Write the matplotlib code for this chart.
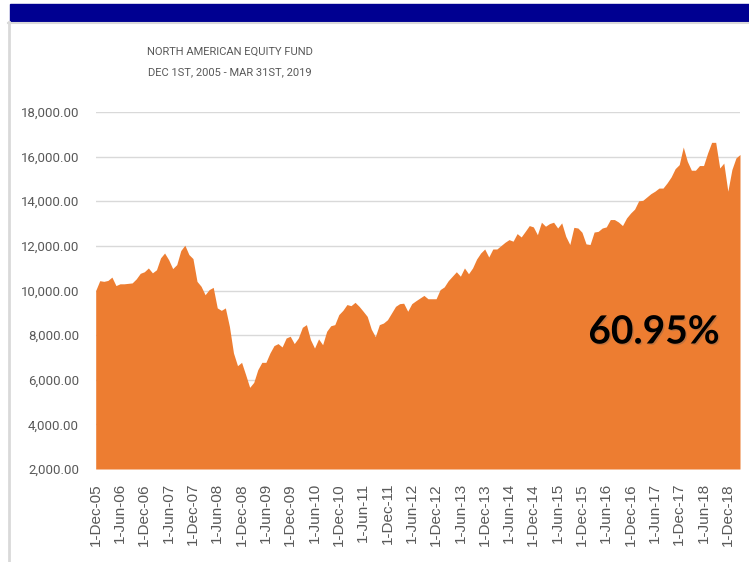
import pandas as pd
import matplotlib.pyplot as plt
import matplotlib.patheffects as pe
from matplotlib.patches import Rectangle
from matplotlib.lines import Line2D

# Monthly fund value, Dec 2005 - Mar 2019
start_date = '2005-12-01'
end_date = '2019-03-01'
fund_values = [
    10000, 10440, 10410, 10450, 10600, 10220, 10300, 10300, 10320, 10340,
    10520, 10770, 10840, 11010, 10790, 10930, 11460, 11680, 11380, 10980,
    11160, 11790, 12030, 11610, 11430, 10410, 10190, 9810, 10040, 10140,
    9220, 9110, 9220, 8390, 7200, 6630, 6780, 6230, 5660, 5880,
    6450, 6780, 6780, 7200, 7530, 7620, 7470, 7870, 7950, 7620,
    7870, 8350, 8470, 7800, 7420, 7830, 7570, 8170, 8420, 8470,
    8920, 9110, 9370, 9320, 9470, 9290, 9070, 8840, 8270, 7930,
    8470, 8540, 8690, 8990, 9290, 9410, 9430, 9070, 9410, 9540,
    9660, 9780, 9630, 9630, 9630, 10040, 10160, 10440, 10640, 10840,
    10640, 11010, 10750, 11010, 11410, 11680, 11860, 11500, 11860, 11860,
    12010, 12160, 12280, 12210, 12550, 12400, 12650, 12910, 12850, 12500,
    13060, 12880, 13000, 13060, 12800, 13030, 12430, 12060, 12830, 12800,
    12610, 12090, 12060, 12620, 12650, 12800, 12850, 13180, 13180, 13070,
    12910, 13250, 13470, 13650, 14020, 14040, 14190, 14340, 14450, 14590,
    14590, 14820, 15090, 15460, 15640, 16430, 15790, 15390, 15390, 15600,
    15600, 16160, 16640, 16640, 15490, 15710, 14450, 15420, 15940, 16095,
]
y_ticks = [2000, 4000, 6000, 8000, 10000, 12000, 14000, 16000, 18000]
total_return = '60.95%'
title_lines = ['NORTH AMERICAN EQUITY FUND', 'DEC 1ST, 2005 - MAR 31ST, 2019']

dates = pd.date_range(start_date, end_date, freq='MS')
x = list(range(len(dates)))
tick_pos = x[::6]
tick_labels = [f'{d.day}-{d.strftime("%b-%y")}' for d in dates[::6]]

W, H = 749, 562
fig = plt.figure(figsize=(W / 100, H / 100), dpi=100)
fig.patch.set_facecolor('white')

# header bar and frame
fig.patches.append(Rectangle((10 / W, 1 - 21 / H), 1, 17 / H, transform=fig.transFigure,
                             color='#000091', zorder=0))
fig.lines.append(Line2D([8 / W, 1], [1 - 22.5 / H] * 2, transform=fig.transFigure,
                        color='#d9d9d9', lw=1.5))
fig.lines.append(Line2D([8.5 / W] * 2, [0, 1 - 22 / H], transform=fig.transFigure,
                        color='#d9d9d9', lw=2))

ax = fig.add_axes([95.7 / W, 1 - 469 / H, (740 - 95.7) / W, (469 - 112) / H])
ax.fill_between(x, fund_values, 2000, color='#ED7D31', lw=0, zorder=2)
ax.set_xlim(0, len(x) - 1)
ax.set_ylim(2000, 18000)
ax.set_yticks(y_ticks)
ax.set_yticklabels([f'{v:,.2f}' for v in y_ticks], family='Roboto',
                   fontsize=9.5, color='#595959')
ax.set_xticks(tick_pos)
ax.set_xticklabels(tick_labels, rotation=90, family='Liberation Sans', fontsize=11, color='#595959')
ax.tick_params(axis='both', length=0)
ax.tick_params(axis='x', pad=10)
ax.tick_params(axis='y', pad=12)
ax.grid(axis='y', color='#d9d9d9', lw=1, zorder=0)
for s in ax.spines.values():
    s.set_visible(False)

fig.text(230 / W, 1 - 52 / H, title_lines[0], ha='center', va='center',
         family='Roboto', fontsize=8, color='#595959')
fig.text(230 / W, 1 - 72 / H, title_lines[1], ha='center', va='center',
         family='Roboto', fontsize=8, color='#595959')

ax.text(654 / W, 1 - 332 / H, total_return, transform=fig.transFigure, ha='center', va='center',
        family='Lato', fontweight='bold', fontsize=28, color='black', zorder=5,
        path_effects=[pe.withSimplePatchShadow(offset=(1, -1), shadow_rgbFace='#9a6a4a', alpha=0.5)])

plt.savefig('out.png', dpi=100)
